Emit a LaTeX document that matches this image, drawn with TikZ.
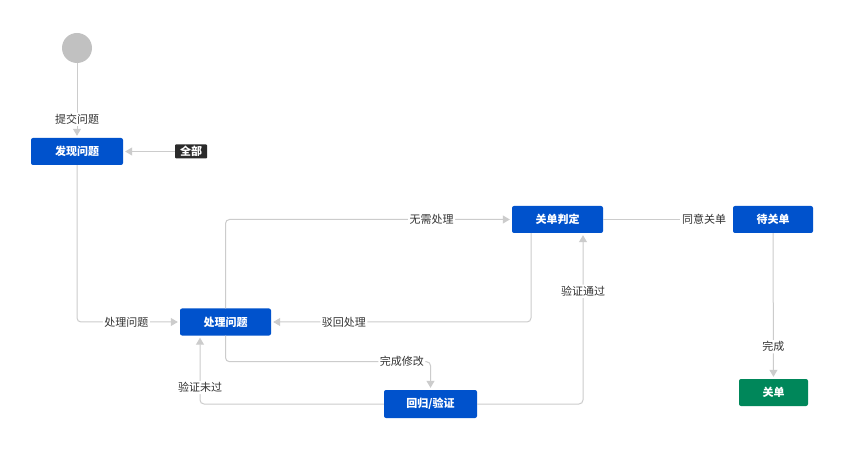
\documentclass[tikz,border=0pt]{standalone}
\usepackage{fontspec}
\setmainfont{Noto Sans CJK SC}
\usetikzlibrary{arrows.meta}
\definecolor{jblue}{HTML}{0052CC}
\definecolor{jgreen}{HTML}{00875A}
\definecolor{lgray}{HTML}{CCCCCC}
\definecolor{cgray}{HTML}{C1C1C1}
\definecolor{tgray}{HTML}{333333}
\definecolor{tagdark}{HTML}{2B2B2B}
\newcommand{\fsz}{\fontsize{11}{13}\selectfont}
\tikzset{
  box/.style={fill=jblue, text=white, font=\bfseries\fsz, rounded corners=2pt, inner sep=0pt, minimum height=27pt},
  conn/.style={draw=lgray, line width=1pt, rounded corners=4pt},
  arr/.style={conn, -{Triangle[length=7pt,width=8pt]}, shorten >=2pt},
  lbl/.style={fill=white, text=tgray, font=\fsz, inner sep=1.5pt}
}
\begin{document}
\begin{tikzpicture}[x=1pt,y=-1pt]
\useasboundingbox[fill=white] (0,0) rectangle (854,454);
\node[circle, fill=cgray, minimum size=30pt, inner sep=0pt] (st) at (77,48) {};
\node[box, minimum width=92pt] (fx) at (77,151.5) {发现问题};
\node[box, minimum width=91pt] (cl) at (225.5,322) {处理问题};
\node[box, minimum width=91pt] (pd) at (557.5,219.5) {关单判定};
\node[box, minimum width=80pt] (dg) at (773,219.5) {待关单};
\node[box, fill=jgreen, minimum width=69pt] (gd) at (773.5,392.5) {关单};
\node[box, minimum width=93pt, minimum height=28pt] (hg) at (430.5,404) {回归/验证};
\node[fill=tagdark, text=white, font=\bfseries\fsz, rounded corners=1pt, inner sep=0pt, minimum width=32pt, minimum height=14pt] (qb) at (191,151.5) {全部};
\node[lbl] (ty) at (704,219.5) {同意关单};

\draw[arr] (st) -- node[lbl, pos=0.75] {提交问题} (fx);
\draw[arr] (qb) -- (fx);
\draw[arr] (fx.south) |- node[lbl, pos=0.74] {处理问题} (cl.west);
\draw[arr] (cl.north) |- node[lbl, pos=0.86] {无需处理} (pd.west);
\draw[arr] ([xshift=-26.5pt]pd.south) |- node[lbl, pos=0.86] {驳回处理} (cl.east);
\draw[arr] (cl.south) -- ++(0,26) -| node[lbl, pos=0.43] {完成修改} (hg.north);
\draw[arr] (hg.west) -| node[lbl, pos=0.62] {验证未过} ([xshift=-25.5pt]cl.south);
\draw[arr] (hg.east) -| node[lbl, pos=0.83] {验证通过} ([xshift=25.5pt]pd.south);
\draw[conn] (pd.east) -- (ty.west);
\draw[arr] (dg) -- node[lbl, pos=0.78] {完成} (gd);
\end{tikzpicture}
\end{document}
